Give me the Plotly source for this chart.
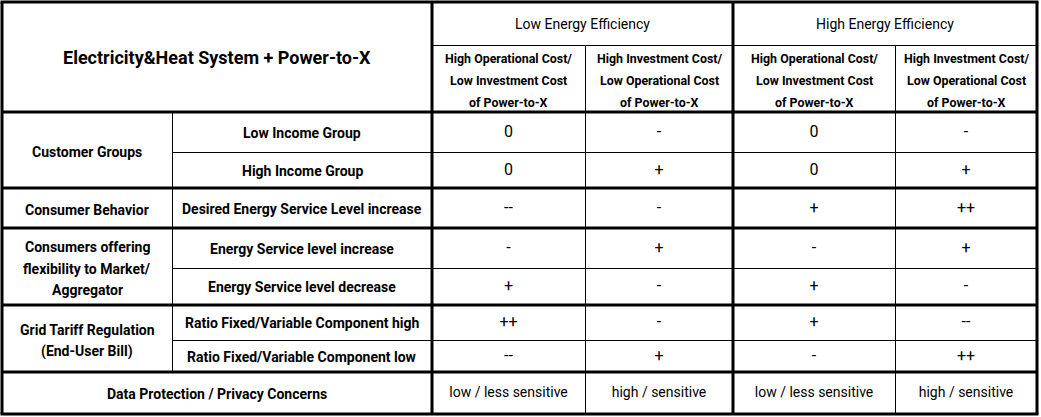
import plotly.graph_objects as go

# ---------------- data ----------------
title_text = "Electricity&Heat System + Power-to-X"
efficiency_levels = ["Low Energy Efficiency", "High Energy Efficiency"]
cost_scenario_lines = [
    ["High Operational Cost/", "Low Investment Cost", "of Power-to-X"],
    ["High Investment Cost/", "Low Operational Cost", "of Power-to-X"],
]
dimension_lines = [
    ["Customer Groups"],
    ["Consumer Behavior"],
    ["Consumers offering", "flexibility to Market/", "Aggregator"],
    ["Grid Tariff Regulation", "(End-User Bill)"],
]
dimension_spans = [2, 1, 2, 2]
factor_labels = [
    "Low Income Group",
    "High Income Group",
    "Desired Energy Service Level increase",
    "Energy Service level increase",
    "Energy Service level decrease",
    "Ratio Fixed/Variable Component high",
    "Ratio Fixed/Variable Component low",
]
impact_values = [
    ["0", "-", "0", "-"],
    ["0", "+", "0", "+"],
    ["--", "-", "+", "++"],
    ["-", "+", "-", "+"],
    ["+", "-", "+", "-"],
    ["++", "-", "+", "--"],
    ["--", "+", "-", "++"],
]
privacy_label = "Data Protection / Privacy Concerns"
privacy_values = ["low / less sensitive", "high / sensitive", "low / less sensitive", "high / sensitive"]

# ---------------- layout geometry ----------------
W, H = 1041, 417
col_edges = [2, 172, 432, 585, 733, 895, 1037]
row_edges = [2, 45, 112, 152, 188, 228, 268, 305, 340, 372, 414]
FONT = "Roboto, Arial, sans-serif"
BOLD_LBL = 14
VAL = 16
TXT_DY = 0.5

fig = go.Figure()
annotations = []


def add_text(x, y, text, size, bold=False):
    annotations.append(dict(
        x=x, y=y + TXT_DY, xref="x", yref="y", text=("<b>%s</b>" % text) if bold else text,
        showarrow=False, xanchor="center", yanchor="middle",
        font=dict(family=FONT, size=size, color="#000000"),
    ))


def add_lines(x, yc, lines, gap, size, bold=True):
    n = len(lines)
    for i, ln in enumerate(lines):
        add_text(x, yc + (i - (n - 1) / 2) * gap, ln, size, bold)


def cx(i, j=None):
    j = i if j is None else j
    return (col_edges[i] + col_edges[j + 1]) / 2


def cy(i, j=None):
    j = i if j is None else j
    return (row_edges[i] + row_edges[j + 1]) / 2


# title
add_text(cx(0, 1), cy(0, 1), title_text, 18, bold=True)
# efficiency headers
for k, lvl in enumerate(efficiency_levels):
    add_text(cx(2 + 2 * k, 3 + 2 * k), cy(0), lvl, 14, bold=False)
    for m, lines in enumerate(cost_scenario_lines):
        add_lines(cx(2 + 2 * k + m), cy(1) + 1, lines, 22, 12.4, bold=True)

# dimension labels
r = 2
for lines, span in zip(dimension_lines, dimension_spans):
    add_lines(cx(0), cy(r, r + span - 1) + 1.5, lines, 21.5, BOLD_LBL, bold=True)
    r += span

# factor labels
for i, lbl in enumerate(factor_labels):
    add_text(cx(1), cy(2 + i), lbl, BOLD_LBL, bold=True)

# impact values via text trace
xs, ys, ts = [], [], []
for i, row in enumerate(impact_values):
    for j, v in enumerate(row):
        xs.append(cx(2 + j))
        ys.append(cy(2 + i) + TXT_DY)
        ts.append(v)
fig.add_trace(go.Scatter(x=xs, y=ys, text=ts, mode="text", hoverinfo="skip",
                         textfont=dict(family=FONT, size=VAL, color="#000000"), showlegend=False))

# privacy row
add_text(cx(0, 1), cy(9), privacy_label, BOLD_LBL, bold=True)
fig.add_trace(go.Scatter(x=[cx(2 + j) for j in range(4)], y=[cy(9) + TXT_DY] * 4, text=privacy_values,
                         mode="text", hoverinfo="skip",
                         textfont=dict(family=FONT, size=14, color="#000000"), showlegend=False))

# ---------------- grid lines ----------------
shapes = []


def hline(y, x0, x1, w):
    shapes.append(dict(type="line", xref="x", yref="y", x0=x0, x1=x1, y0=y, y1=y,
                       line=dict(color="#000000", width=w)))


def vline(x, y0, y1, w):
    shapes.append(dict(type="line", xref="x", yref="y", x0=x, x1=x, y0=y0, y1=y1,
                       line=dict(color="#000000", width=w)))


L, R, T, B = col_edges[0], col_edges[-1], row_edges[0], row_edges[-1]
# thin
hline(row_edges[1] + 0.5, col_edges[2], R, 1)
for k in (3, 6, 8):
    hline(row_edges[k] + 0.5, col_edges[1], R, 1)
vline(col_edges[1] + 0.5, row_edges[2], row_edges[9], 1)
vline(col_edges[3] + 0.5, row_edges[1], B, 1)
vline(col_edges[5] + 0.5, row_edges[1], B, 1)
# thick
for k in (2, 4, 5, 7, 9):
    hline(row_edges[k], L, R, 3)
vline(col_edges[2], T, B, 3)
vline(col_edges[4], T, B, 3)
hline(T, L - 1.5, R + 1.5, 3)
hline(B, L - 1.5, R + 1.5, 3)
vline(L, T, B, 3)
vline(R, T, B, 3)

fig.update_layout(
    width=W, height=H, margin=dict(l=0, r=0, t=0, b=0),
    paper_bgcolor="white", plot_bgcolor="white",
    xaxis=dict(range=[0, W], visible=False, fixedrange=True),
    yaxis=dict(range=[H, 0], visible=False, fixedrange=True),
    shapes=shapes, annotations=annotations, showlegend=False,
)
fig.write_html("out.html", config={"displayModeBar": False},
               post_script="document.body.style.margin='0';document.body.style.overflow='hidden';")
